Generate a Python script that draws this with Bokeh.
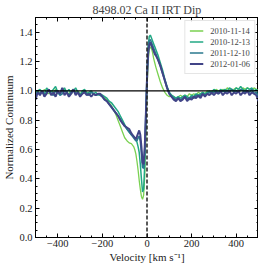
from bokeh.plotting import figure
from bokeh.models import (Range1d, LinearAxis, SingleIntervalTicker, Span, Legend, LegendItem,
                          Title, CustomJSTickFormatter)
from bokeh.embed import file_html
from bokeh.resources import INLINE

# Velocity grid (km/s)
velocity = [-500, -490, -480, -470, -460, -450, -440, -430, -420, -410,
            -400, -390, -380, -370, -360, -350, -340, -330, -320, -310,
            -300, -290, -280, -270, -260, -250, -240, -230, -220, -210,
            -200, -190, -180, -170, -160, -150, -140, -130, -120, -110,
            -100, -90, -80, -70, -60,
            -55, -50, -45, -40, -35, -30, -25, -20, -15, -10,
            -5, 0, 5, 10, 15, 20, 25, 30, 35, 40,
            50, 60, 70, 80, 90, 100, 110, 120, 130, 140,
            150, 160, 170, 180, 190, 200, 210, 220, 230, 240,
            250, 260, 270, 280, 290, 300, 310, 320, 330, 340,
            350, 360, 370, 380, 390, 400, 410, 420, 430, 440,
            450, 460, 470, 480, 490, 500]

flux_2010_11_14 = [0.99, 1.00, 0.98, 0.99, 1.01, 0.99, 0.98, 1.00, 0.99, 1.01,
                   0.98, 0.99, 1.00, 1.01, 0.99, 0.98, 1.00, 1.01, 0.99, 1.00,
                   0.98, 0.99, 1.00, 0.99, 0.98, 0.99, 0.98, 0.97, 0.98, 0.97,
                   0.96, 0.95, 0.94, 0.92, 0.90, 0.87, 0.84, 0.80, 0.76, 0.72,
                   0.68, 0.66, 0.645, 0.64, 0.62,
                   0.60, 0.57, 0.52, 0.46, 0.39, 0.33, 0.28, 0.26, 0.29, 0.42,
                   0.70, 1.00, 1.20, 1.28, 1.30, 1.29, 1.26, 1.22, 1.19, 1.16,
                   1.11, 1.06, 1.02, 0.99, 0.97, 0.96, 0.97, 0.96, 0.95, 0.96,
                   0.97, 0.96, 0.97, 0.96, 0.98, 0.97, 0.98, 0.97, 0.99, 0.98,
                   0.99, 0.98, 1.00, 0.99, 1.00, 0.99, 1.01, 1.00, 0.99, 1.01,
                   1.00, 1.02, 1.01, 1.00, 1.01, 1.02, 1.01, 1.00, 1.02, 1.01,
                   1.02, 1.01, 1.00, 1.02, 1.01, 1.00]

flux_2010_12_13 = [0.98, 1.00, 1.01, 0.99, 0.98, 1.02, 1.00, 0.99, 1.01, 1.03,
                   0.99, 0.98, 1.00, 1.02, 0.99, 1.01, 0.98, 1.00, 1.02, 0.99,
                   0.97, 1.00, 1.01, 0.98, 0.99, 1.00, 0.98, 0.99, 0.97, 0.98,
                   0.97, 0.96, 0.95, 0.93, 0.92, 0.90, 0.88, 0.86, 0.83, 0.80,
                   0.77, 0.74, 0.72, 0.70, 0.69,
                   0.68, 0.67, 0.65, 0.62, 0.58, 0.50, 0.40, 0.31, 0.33, 0.50,
                   0.80, 1.10, 1.30, 1.37, 1.38, 1.36, 1.34, 1.32, 1.30, 1.28,
                   1.24, 1.19, 1.14, 1.08, 1.03, 0.99, 0.97, 0.96, 0.95, 0.96,
                   0.95, 0.96, 0.97, 0.96, 0.95, 0.97, 0.96, 0.98, 0.97, 0.98,
                   0.99, 0.98, 0.99, 1.00, 0.99, 1.01, 1.00, 0.99, 1.01, 1.00,
                   1.01, 1.00, 1.02, 1.01, 1.00, 1.02, 1.01, 1.03, 1.01, 1.00,
                   1.02, 1.01, 1.02, 1.00, 1.01, 0.99]

flux_2011_12_10 = [0.97, 0.99, 0.98, 1.00, 0.97, 0.99, 1.01, 0.98, 0.97, 1.00,
                   0.99, 0.97, 0.98, 1.00, 0.99, 0.97, 0.99, 1.01, 0.98, 0.99,
                   0.97, 0.98, 1.00, 0.98, 0.97, 0.99, 0.98, 0.97, 0.98, 0.97,
                   0.96, 0.94, 0.93, 0.91, 0.89, 0.87, 0.85, 0.83, 0.81, 0.78,
                   0.76, 0.74, 0.72, 0.70, 0.68,
                   0.67, 0.66, 0.66, 0.68, 0.69, 0.66, 0.58, 0.48, 0.47, 0.60,
                   0.85, 1.10, 1.28, 1.34, 1.35, 1.33, 1.31, 1.29, 1.27, 1.25,
                   1.21, 1.17, 1.12, 1.07, 1.02, 0.98, 0.96, 0.95, 0.94, 0.95,
                   0.94, 0.95, 0.96, 0.95, 0.94, 0.96, 0.95, 0.97, 0.96, 0.97,
                   0.98, 0.97, 0.98, 0.99, 0.98, 0.99, 1.00, 0.98, 0.99, 1.00,
                   0.99, 1.00, 0.99, 1.01, 0.99, 1.00, 0.99, 1.01, 1.00, 0.99,
                   1.00, 0.99, 1.01, 0.98, 0.99, 0.96]

flux_2012_01_06 = [0.94, 0.99, 0.97, 1.00, 0.96, 0.98, 1.01, 0.97, 0.99, 0.96,
                   1.00, 0.98, 1.02, 0.97, 0.99, 0.96, 0.98, 1.01, 0.97, 0.99,
                   0.96, 0.98, 0.99, 0.97, 0.98, 0.96, 0.98, 0.97, 0.98, 0.98,
                   0.96, 0.94, 0.93, 0.91, 0.89, 0.87, 0.85, 0.83, 0.80, 0.78,
                   0.76, 0.75, 0.74, 0.71, 0.69,
                   0.68, 0.67, 0.69, 0.71, 0.73, 0.70, 0.62, 0.51, 0.50, 0.62,
                   0.84, 1.08, 1.25, 1.31, 1.33, 1.31, 1.29, 1.27, 1.25, 1.24,
                   1.21, 1.17, 1.12, 1.07, 1.02, 0.98, 0.96, 0.94, 0.93, 0.95,
                   0.93, 0.94, 0.96, 0.93, 0.95, 0.94, 0.96, 0.95, 0.97, 0.95,
                   0.98, 0.96, 0.98, 0.97, 0.99, 0.97, 0.99, 0.98, 1.00, 0.97,
                   0.99, 0.98, 1.00, 0.97, 0.99, 0.98, 1.00, 0.97, 0.99, 0.98,
                   1.00, 0.97, 0.99, 0.98, 0.97, 0.93]

dates = ["2010-11-14", "2010-12-13", "2011-12-10", "2012-01-06"]
series = [flux_2010_11_14, flux_2010_12_13, flux_2011_12_10, flux_2012_01_06]
colors = ["#7ad151", "#22a884", "#2a788e", "#414487"]
widths = [1.3, 1.5, 1.7, 2.0]

SERIF = "Liberation Serif"

p = figure(frame_width=223, frame_height=220, x_range=Range1d(-500, 500), y_range=Range1d(0, 1.5),
           x_axis_type=None, y_axis_type=None,
           output_backend="svg", toolbar_location=None, title=None,
           min_border_left=0, min_border_right=0, min_border_top=0, min_border_bottom=0)
p.xgrid.visible = False
p.ygrid.visible = False
p.outline_line_color = "black"
p.outline_line_width = 1
p.background_fill_color = "white"
p.border_fill_color = "white"

xt = SingleIntervalTicker(interval=200, num_minor_ticks=4)
yt = SingleIntervalTicker(interval=0.2, num_minor_ticks=4)
xfmt = CustomJSTickFormatter(code="return tick.toFixed(0).replace('-', '\\u2212');")
yfmt = CustomJSTickFormatter(code="return tick.toFixed(1);")
blank = CustomJSTickFormatter(code="return '';")

bottom = LinearAxis(ticker=xt, formatter=xfmt)
left = LinearAxis(ticker=yt, formatter=yfmt)
top = LinearAxis(ticker=xt, formatter=blank, major_label_standoff=0)
right = LinearAxis(ticker=yt, formatter=blank, major_label_standoff=0)
p.add_layout(bottom, "below")
p.add_layout(left, "left")
p.add_layout(top, "above")
p.add_layout(right, "right")

for ax in [bottom, left, top, right]:
    ax.major_tick_in = 4
    ax.major_tick_out = 0
    ax.minor_tick_in = 2
    ax.minor_tick_out = 0
    ax.axis_line_color = "black"
    ax.major_tick_line_color = "black"
    ax.minor_tick_line_color = "black"
    ax.major_label_text_font = SERIF
    ax.major_label_text_color = "#222222"
    ax.major_label_text_font_size = "10.5px"

bottom.major_label_standoff = 2
left.major_label_standoff = 3
bottom.axis_label = "Velocity [km s\u207b\u00b9]"
left.axis_label = "Normalized Continuum"
for ax in [bottom, left]:
    ax.axis_label_text_font = SERIF
    ax.axis_label_text_font_size = "11px"
    ax.axis_label_text_font_style = "normal"
    ax.axis_label_text_color = "#222222"
    ax.axis_label_standoff = 1

renderers = []
for d, ys, c, w in zip(dates, series, colors, widths):
    r = p.line(velocity, ys, line_color=c, line_width=w)
    renderers.append(r)

p.add_layout(Span(location=1.0, dimension="width", line_color="black", line_width=1.2))
p.add_layout(Span(location=0.0, dimension="height", line_color="#222222", line_width=1.5, line_dash="4 2"))

legend = Legend(items=[LegendItem(label=d, renderers=[r]) for d, r in zip(dates, renderers)],
                location="top_right", margin=3, padding=4, spacing=0,
                label_text_font=SERIF, label_text_font_size="8.5px", label_height=11,
                glyph_width=14, glyph_height=11, label_standoff=7,
                border_line_color="#cccccc", background_fill_alpha=0.85)
p.add_layout(legend)

p.add_layout(Title(text="8498.02 Ca II IRT Dip", align="center", text_font=SERIF,
                   text_font_size="12px", text_font_style="normal", standoff=1), "above")

open("out.html", "w").write(file_html(p, INLINE))
